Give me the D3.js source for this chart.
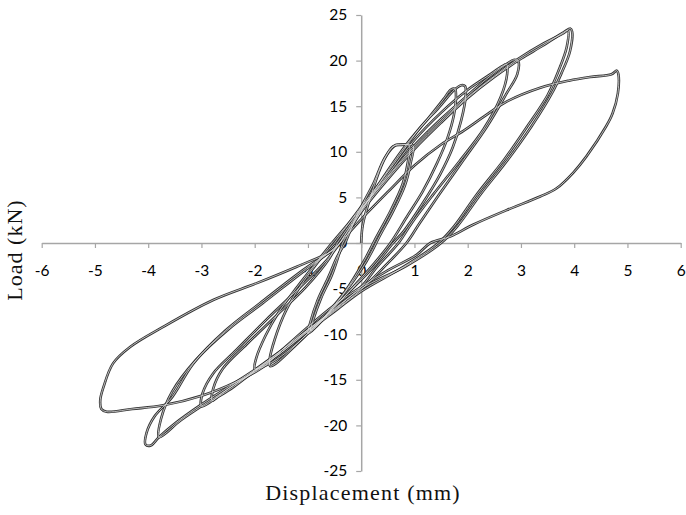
<!DOCTYPE html>
<html>
<head>
<meta charset="utf-8">
<script src="https://cdn.jsdelivr.net/npm/d3@7"></script>
<style>
  body { margin: 0; background: #fff; }
  svg { display: block; }
</style>
</head>
<body>
<div id="chart"></div>
<script>
// cycles, [displacement mm, load kN]
const loop1a = [[0,0],[0.03,2],[0.2,5.5],[0.42,9.0],[0.6,10.6],[0.75,10.75],[0.9,10.7],[0.88,9.0],[0.78,6.5],[0.55,3.5],[0.3,0.8],[0.05,-2],[-0.3,-5.3],[-0.65,-7.8],[-0.92,-9.6],[-1.0,-9.9],[-0.96,-8.8],[-0.82,-6.3],[-0.62,-3.8],[-0.45,-1.5],[-0.3,0]];
const loop1b = [[-0.3,0],[-0.05,3.4],[0.22,6.4],[0.45,9.4],[0.65,10.75],[0.8,10.8],[0.97,10.7],[0.93,8.8],[0.82,6.3],[0.6,3.5],[0.35,0.8],[0.1,-2],[-0.25,-5],[-0.6,-7.6],[-0.87,-9.3],[-0.95,-9.6],[-0.9,-8.4],[-0.75,-6],[-0.55,-3.5],[-0.42,-1.3],[-0.35,0]];
const loop2a = [[-0.35,0],[0,3.5],[0.3,6.2],[0.6,8.8],[0.9,11.2],[1.25,13.6],[1.55,15.8],[1.68,16.8],[1.76,16.9],[1.78,16.2],[1.74,14],[1.62,11.5],[1.42,8.7],[1.15,5.6],[0.85,2.8],[0.55,0],[0.25,-2.2],[-0.1,-4.5],[-0.5,-7],[-0.9,-9.3],[-1.3,-11.6],[-1.6,-13.2],[-1.71,-13.5],[-1.72,-12.8],[-1.62,-10.5],[-1.42,-7.5],[-1.15,-4.8],[-0.8,-2.0],[-0.5,0]];
const loop2b = [[-0.5,0],[-0.05,3.6],[0.35,6.6],[0.75,9.8],[1.1,12.6],[1.45,14.8],[1.75,16.8],[1.88,17.3],[1.95,17.2],[1.96,16],[1.88,13.5],[1.72,10.5],[1.48,7.5],[1.15,4.3],[0.8,1.3],[0.6,0],[0.25,-2.5],[-0.2,-5.2],[-0.7,-8.2],[-1.2,-11],[-1.6,-12.8],[-1.9,-13.7],[-2.0,-13.8],[-1.97,-12.6],[-1.8,-10.2],[-1.55,-7.6],[-1.2,-4.8],[-0.85,-2.2],[-0.55,0]];
const loop3a = [[-0.55,0],[0,3.8],[0.5,7.5],[1.0,11.3],[1.5,14.3],[2.0,16.8],[2.4,18.4],[2.65,19.4],[2.73,19.6],[2.74,18.5],[2.62,16],[2.3,12.5],[1.85,9.0],[1.35,5.3],[0.95,2.2],[0.7,0],[0.3,-2.6],[0,-4.8],[-0.5,-7.2],[-1.0,-9.5],[-1.5,-11.8],[-2.0,-14],[-2.4,-15.8],[-2.72,-17],[-2.8,-17.3],[-2.78,-16.0],[-2.6,-13.8],[-2.15,-11.1],[-1.6,-8.0],[-1.05,-4.9],[-0.6,-1.7],[-0.45,0]];
const loop3b = [[-0.45,0],[0,3.7],[0.5,7.3],[1.0,10.7],[1.5,13.6],[2.0,16.2],[2.4,18.2],[2.7,19.5],[2.88,20.1],[2.95,19.9],[2.93,18.5],[2.73,16.4],[2.36,12.75],[1.92,9.1],[1.48,5.45],[1.1,2.2],[0.85,0],[0.4,-2.8],[0,-5.1],[-0.5,-7.4],[-1.0,-9.6],[-1.5,-12],[-2.0,-14.1],[-2.5,-16],[-2.85,-17.5],[-3.0,-17.9],[-2.98,-16.5],[-2.78,-14.3],[-2.34,-11.7],[-1.78,-8.4],[-1.21,-5.2],[-0.65,-1.9],[-0.4,0]];
const loop4a = [[-0.4,0],[0,3.6],[0.5,7.2],[1.0,10.5],[1.5,13.4],[2.0,16.0],[2.5,18.3],[2.95,20.2],[3.4,21.8],[3.8,23.0],[3.88,23.3],[3.86,21.5],[3.7,18.8],[3.5,16.2],[3.12,12.8],[2.68,9.1],[2.18,5.4],[1.74,1.8],[1.45,0],[0.8,-2.6],[0,-5.3],[-0.5,-7.5],[-1.0,-9.7],[-1.5,-12],[-2.0,-14],[-2.5,-16],[-3.0,-17.9],[-3.4,-19.5],[-3.7,-21],[-3.8,-21.3],[-3.76,-19.3],[-3.55,-16.3],[-3.1,-12.8],[-2.5,-9.5],[-1.85,-6.6],[-1.1,-3.2],[-0.55,-0.8],[-0.4,0]];
const loop4b = [[-0.4,0],[0,3.4],[0.5,7],[1.0,10.3],[1.5,13.2],[2.0,15.9],[2.5,18.2],[3.0,20.2],[3.4,21.6],[3.8,23.1],[3.93,23.5],[3.96,23.2],[3.92,21],[3.76,18.6],[3.58,16.4],[3.2,12.8],[2.75,9.1],[2.25,5.4],[1.8,1.8],[1.5,0],[0.85,-2.5],[0,-5],[-0.5,-7.3],[-1.0,-9.5],[-1.5,-11.8],[-2.0,-13.9],[-2.5,-15.8],[-3.0,-17.7],[-3.5,-19.8],[-3.8,-21.3],[-3.95,-22.2],[-4.05,-22.1],[-4.03,-20.8],[-3.88,-19],[-3.55,-16.9],[-3.15,-13.2],[-2.55,-9.6],[-1.9,-6.6],[-1.1,-3],[-0.55,-0.8],[-0.4,0]];
const loop5 = [[-0.4,0],[0,2.6],[0.5,5.6],[1.0,8.5],[1.5,10.8],[1.92,12.3],[2.29,13.8],[2.73,15.5],[3.35,17],[3.9,17.8],[4.3,18.2],[4.7,18.5],[4.8,18.9],[4.83,18.5],[4.82,16.4],[4.72,14.2],[4.6,12.8],[4.23,9.5],[3.98,7.7],[3.67,6],[3.36,5.1],[2.73,3.6],[2.1,2.0],[1.67,0.7],[1.3,0],[1.04,-1.3],[0.5,-3],[0,-4.8],[-0.5,-6.8],[-1.0,-9.2],[-1.5,-11.8],[-1.84,-13.6],[-2.34,-15.2],[-2.97,-16.7],[-3.72,-17.8],[-4.3,-18.2],[-4.78,-18.5],[-4.88,-18.2],[-4.9,-17.2],[-4.84,-15.8],[-4.66,-13.2],[-4.34,-11.4],[-3.72,-9.2],[-2.78,-6.25],[-1.96,-4.4],[-1.21,-2.6],[-0.52,-0.77],[-0.4,0]];

const cycles = [loop1a, loop1b, loop2a, loop2b, loop3a, loop3b, loop4a, loop4b, loop5];

const xTicks = [-6, -5, -4, -3, -2, -1, 0, 1, 2, 3, 4, 5, 6];
const yTicks = [-25, -20, -15, -10, -5, 0, 5, 10, 15, 20, 25];

const width = 686, height = 515;

const x = d3.scaleLinear().domain([-6, 6]).range([41.7, 680.7]);
const y = d3.scaleLinear().domain([-25, 25]).range([471, 15]);

const svg = d3.select('#chart').append('svg')
  .attr('width', width)
  .attr('height', height);

const axisColor = '#a6a6a6';
const tickFont = 'Lato, "Open Sans", sans-serif';
// plain hyphen for negatives, like the original
const fmt = d => String(d);

// x axis through y = 0, labels sit well below it
const gx = svg.append('g')
  .attr('transform', `translate(0,${y(0)})`)
  .call(d3.axisBottom(x).tickValues(xTicks).tickSize(5).tickSizeOuter(0).tickFormat(fmt));
gx.select('.domain').attr('stroke', axisColor).attr('stroke-width', 1.5);
gx.selectAll('.tick line').attr('stroke', axisColor).attr('stroke-width', 1.2);
gx.selectAll('.tick text')
  .attr('y', 33)
  .attr('dy', 0)
  .attr('fill', '#000')
  .attr('font-family', tickFont)
  .attr('font-size', 15.5);

// y axis through x = 0
const gy = svg.append('g')
  .attr('transform', `translate(${x(0)},0)`)
  .call(d3.axisLeft(y).tickValues(yTicks).tickSize(5).tickSizeOuter(0).tickFormat(fmt));
gy.select('.domain').attr('stroke', axisColor).attr('stroke-width', 1.5);
gy.selectAll('.tick line').attr('stroke', axisColor).attr('stroke-width', 1.2);
gy.selectAll('.tick text')
  .attr('x', -14)
  .attr('fill', '#000')
  .attr('font-family', tickFont)
  .attr('font-size', 15.5);

const line = d3.line()
  .x(d => x(d[0]))
  .y(d => y(d[1]))
  .curve(d3.curveCatmullRom.alpha(0.5));

const plot = svg.append('g').attr('fill', 'none').attr('stroke-linejoin', 'round');

// outer dark stroke then a thin light core, gives the doubled trace look
plot.selectAll('path.outer')
  .data(cycles)
  .join('path')
  .attr('class', 'outer')
  .attr('d', line)
  .attr('stroke', '#333')
  .attr('stroke-width', 2.6);

plot.selectAll('path.inner')
  .data(cycles)
  .join('path')
  .attr('class', 'inner')
  .attr('d', line)
  .attr('stroke', '#e0e0e0')
  .attr('stroke-width', 0.8);

// axis titles
svg.append('text')
  .attr('x', 363)
  .attr('y', 500)
  .attr('text-anchor', 'middle')
  .attr('font-family', '"Liberation Serif", "Times New Roman", serif')
  .attr('font-size', 22)
  .attr('letter-spacing', 1.2)
  .attr('fill', '#111')
  .text('Displacement (mm)');

svg.append('text')
  .attr('transform', 'translate(22,250) rotate(-90)')
  .attr('text-anchor', 'middle')
  .attr('font-family', '"Liberation Serif", "Times New Roman", serif')
  .attr('font-size', 22)
  .attr('letter-spacing', 1)
  .attr('fill', '#111')
  .text('Load (kN)');
</script>
</body>
</html>
